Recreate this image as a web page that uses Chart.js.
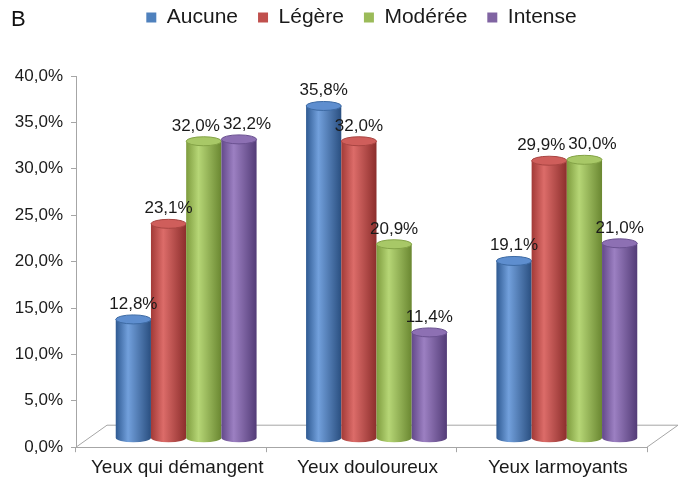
<!DOCTYPE html>
<html>
<head>
<meta charset="utf-8">
<script src="https://cdn.jsdelivr.net/npm/chart.js@4/dist/chart.umd.min.js"></script>
<style>
  body { margin: 0; background: #fff; }
  #wrap { position: relative; width: 683px; height: 478px; }
  #panneau { position: absolute; left: 11px; top: 8px; font: 22px 'Liberation Sans', Arial, sans-serif; line-height: 22px; color: #111; }
</style>
</head>
<body>
<div id="wrap">
  <div id="panneau">B</div>
  <canvas id="graphe" width="683" height="478"></canvas>
</div>
<script>
// données
const categories = ['Yeux qui démangent', 'Yeux douloureux', 'Yeux larmoyants'];
const series = ['Aucune', 'Légère', 'Modérée', 'Intense'];
const aucune = [12.8, 35.8, 19.1];
const legere = [23.1, 32.0, 29.9];
const moderee = [32.0, 20.9, 30.0];
const intense = [32.2, 11.4, 21.0];
const yMin = 0, yMax = 40, yPas = 5;

const couleurs = ['#4F81BD', '#C0504D', '#9BBB59', '#8064A2'];
// teintes pour l'effet cylindre
const teintes = [
  { bord: '#2f5a92', clair: '#72a0dc', fonce: '#2a4f80', dessus: '#5e8ecf', trait: '#3d6aa3' },
  { bord: '#a23a37', clair: '#dc6c69', fonce: '#8c2e2c', dessus: '#cf5e5b', trait: '#a84542' },
  { bord: '#7e9c3e', clair: '#b6d676', fonce: '#6a8731', dessus: '#a8c867', trait: '#84a347' },
  { bord: '#63498a', clair: '#9c80c2', fonce: '#533c77', dessus: '#8d70b3', trait: '#6a5190' }
];

const fmt = v => v.toFixed(1).replace('.', ',') + '%';
const police = "'Liberation Sans', Arial, sans-serif";
const gris = '#a6a6a6';
const taillePct = 17;

// décalages de la perspective 3D
const sol = { dx: 31, dy: -22 };
const barre = { dx: 15, dy: -9, ry: 4.5 };

const cylindres = {
  id: 'cylindres',
  beforeInit(chart) {
    // espace sous la légende
    const fitOrig = chart.legend.fit.bind(chart.legend);
    chart.legend.fit = function () { fitOrig(); this.height += 38; };
  },
  beforeDatasetsDraw(chart) {
    const ctx = chart.ctx;
    const x = chart.scales.x, y = chart.scales.y;
    const y0 = y.getPixelForValue(0);
    ctx.save();
    ctx.strokeStyle = gris;
    ctx.lineWidth = 1;
    ctx.beginPath();
    ctx.moveTo(x.left, y0);
    ctx.lineTo(x.left + sol.dx, y0 + sol.dy);
    ctx.lineTo(x.right + sol.dx, y0 + sol.dy);
    ctx.lineTo(x.right, y0);
    ctx.stroke();
    ctx.restore();
  },
  beforeDatasetDraw() {
    return false;
  },
  afterDatasetsDraw(chart) {
    const ctx = chart.ctx;
    const n = chart.data.labels.length;
    ctx.save();
    ctx.font = taillePct + 'px ' + police;
    for (let j = 0; j < n; j++) {
      const etiquettes = [];
      chart.data.datasets.forEach((ds, i) => {
        const el = chart.getDatasetMeta(i).data[j];
        const p = el.getProps(['x', 'y', 'base', 'width'], true);
        const t = teintes[i];
        const rx = p.width / 2, ry = barre.ry;
        const cx = p.x + barre.dx, haut = p.y + barre.dy, bas = p.base + barre.dy;

        const g = ctx.createLinearGradient(cx - rx, 0, cx + rx, 0);
        g.addColorStop(0, t.bord);
        g.addColorStop(0.35, t.clair);
        g.addColorStop(1, t.fonce);
        ctx.beginPath();
        ctx.moveTo(cx - rx, haut);
        ctx.lineTo(cx - rx, bas);
        ctx.ellipse(cx, bas, rx, ry, 0, Math.PI, 0, true);
        ctx.lineTo(cx + rx, haut);
        ctx.closePath();
        ctx.fillStyle = g;
        ctx.fill();

        ctx.beginPath();
        ctx.ellipse(cx, haut, rx, ry, 0, 0, Math.PI * 2);
        ctx.fillStyle = t.dessus;
        ctx.fill();
        ctx.strokeStyle = t.trait;
        ctx.lineWidth = 1;
        ctx.stroke();

        const txt = fmt(ds.data[j]);
        etiquettes.push({ txt, x: cx, y: haut - ry - 6, w: ctx.measureText(txt).width });
      });

      // écarter les étiquettes qui se chevauchent
      for (let k = 1; k < etiquettes.length; k++) {
        const a = etiquettes[k - 1], b = etiquettes[k];
        if (Math.abs(a.y - b.y) < taillePct) {
          const chevauche = (a.x + a.w / 2 + 3) - (b.x - b.w / 2);
          if (chevauche > 0) { a.x -= chevauche / 2; b.x += chevauche / 2; }
        }
      }
      ctx.fillStyle = '#1a1a1a';
      ctx.textAlign = 'center';
      ctx.textBaseline = 'alphabetic';
      etiquettes.forEach(e => ctx.fillText(e.txt, e.x, e.y));
    }
    ctx.restore();
  }
};

const valeurs = [aucune, legere, moderee, intense];

new Chart(document.getElementById('graphe'), {
  type: 'bar',
  data: {
    labels: categories,
    datasets: series.map((nom, i) => ({
      label: nom,
      data: valeurs[i],
      backgroundColor: couleurs[i],
      categoryPercentage: 0.74,
      barPercentage: 1.0
    }))
  },
  options: {
    responsive: false,
    animation: false,
    layout: { padding: { left: 9, right: 36, top: -13, bottom: -5 } },
    plugins: {
      legend: {
        position: 'top',
        fullSize: false,
        labels: {
          boxWidth: 10,
          boxHeight: 10,
          padding: 20,
          color: '#1a1a1a',
          font: { size: 21, family: police }
        }
      },
      tooltip: { enabled: false }
    },
    scales: {
      x: {
        grid: { offset: true, drawOnChartArea: false, tickLength: 5, color: gris },
        border: { color: gris },
        ticks: { color: '#1a1a1a', font: { size: 19, family: police }, padding: 4, labelOffset: 6 }
      },
      y: {
        min: yMin,
        max: yMax,
        afterFit(scale) { scale.width = 67; },
        grid: { drawOnChartArea: false, tickLength: 5, color: gris },
        border: { color: gris },
        ticks: {
          stepSize: yPas,
          color: '#1a1a1a',
          padding: 8,
          font: { size: 17, family: police },
          callback: v => fmt(v)
        }
      }
    }
  },
  plugins: [cylindres]
});
</script>
</body>
</html>
